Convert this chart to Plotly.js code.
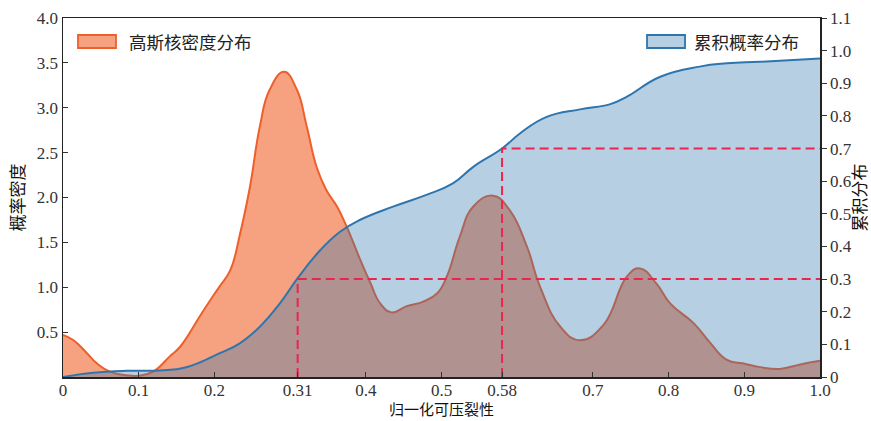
<!DOCTYPE html>
<html>
<head>
<meta charset="utf-8">
<script src="https://cdn.plot.ly/plotly-3.0.1.min.js"></script>
<style>html,body{margin:0;padding:0;background:#fff;}#chart{width:871px;height:421px;}</style>
</head>
<body>
<div id="chart"></div>
<script>
// Gaussian KDE (left axis, density)
const kdeX = [0, 0.014, 0.031, 0.045, 0.062, 0.084, 0.1, 0.119, 0.141, 0.155, 0.181, 0.198, 0.207, 0.221, 0.234, 0.247, 0.26, 0.273, 0.292, 0.309, 0.322, 0.335, 0.348, 0.362, 0.375, 0.392, 0.406, 0.419, 0.434, 0.454, 0.476, 0.494, 0.507, 0.524, 0.542, 0.568, 0.59, 0.613, 0.63, 0.657, 0.683, 0.714, 0.745, 0.762, 0.784, 0.802, 0.833, 0.855, 0.877, 0.899, 0.921, 0.947, 0.974, 1.0];
const kdeY = [0.47, 0.41, 0.27, 0.15, 0.06, 0.02, 0.015, 0.06, 0.23, 0.34, 0.68, 0.9, 1.01, 1.19, 1.6, 2.12, 2.79, 3.2, 3.4, 3.2, 2.79, 2.34, 2.08, 1.9, 1.67, 1.32, 1.05, 0.82, 0.72, 0.79, 0.84, 0.93, 1.12, 1.56, 1.9, 2.02, 1.86, 1.45, 1.01, 0.56, 0.41, 0.58, 1.12, 1.21, 1.04, 0.82, 0.6, 0.38, 0.19, 0.15, 0.11, 0.09, 0.14, 0.18];
// Cumulative distribution (right axis)
const cdfX = [0, 0.04, 0.084, 0.128, 0.163, 0.207, 0.234, 0.26, 0.287, 0.31, 0.34, 0.366, 0.392, 0.436, 0.48, 0.515, 0.542, 0.58, 0.604, 0.639, 0.683, 0.723, 0.745, 0.789, 0.841, 0.877, 0.921, 1.0];
const cdfY = [0, 0.013, 0.019, 0.02, 0.03, 0.073, 0.104, 0.154, 0.227, 0.303, 0.389, 0.445, 0.481, 0.522, 0.558, 0.593, 0.644, 0.70, 0.747, 0.797, 0.82, 0.836, 0.859, 0.92, 0.951, 0.961, 0.966, 0.976];
// Reference guide lines
const guide1X = [0.31, 0.31, 1.0];
const guide1Y = [0, 0.3, 0.3];
const guide2X = [0.58, 0.58, 1.0];
const guide2Y = [0, 0.7, 0.7];
// Tick labels
const xTickVals = [0, 0.1, 0.2, 0.31, 0.4, 0.5, 0.58, 0.7, 0.8, 0.9, 1.0];
const xTickText = ["0", "0.1", "0.2", "0.31", "0.4", "0.5", "0.58", "0.7", "0.8", "0.9", "1.0"];
const yTickVals = [0.5, 1.0, 1.5, 2.0, 2.5, 3.0, 3.5, 4.0];
const yTickText = ["0.5", "1.0", "1.5", "2.0", "2.5", "3.0", "3.5", "4.0"];
const y2TickVals = [0, 0.1, 0.2, 0.3, 0.4, 0.5, 0.6, 0.7, 0.8, 0.9, 1.0, 1.1];
const y2TickText = ["0", "0.1", "0.2", "0.3", "0.4", "0.5", "0.6", "0.7", "0.8", "0.9", "1.0", "1.1"];
const seriesNames = ["高斯核密度分布", "累积概率分布"];
const xTitle = "归一化可压裂性";

const serif = "Liberation Serif, Times New Roman, serif";
const cjk = "Noto Sans CJK SC, sans-serif";
const orangeLine = "#EE5F2B", orangeFill = "rgba(240,100,45,0.6)";
const blueLine = "#2E75AE", blueFill = "rgba(46,117,174,0.35)";
const guideStyle = {color: "#E8264F", width: 2, dash: "9px,5px"};

const traces = [
  {x: kdeX, y: kdeY, type: "scatter", mode: "lines", name: seriesNames[0],
   line: {color: orangeLine, width: 2, shape: "spline", smoothing: 1.3},
   fill: "tozeroy", fillcolor: orangeFill, yaxis: "y", showlegend: false},
  {x: cdfX, y: cdfY, type: "scatter", mode: "lines", name: seriesNames[1],
   line: {color: blueLine, width: 2, shape: "spline", smoothing: 1.3},
   fill: "tozeroy", fillcolor: blueFill, yaxis: "y2", showlegend: false},
  {x: guide1X, y: guide1Y, type: "scatter", mode: "lines", line: guideStyle, yaxis: "y2", showlegend: false, hoverinfo: "skip"},
  {x: guide2X, y: guide2Y, type: "scatter", mode: "lines", line: guideStyle, yaxis: "y2", showlegend: false, hoverinfo: "skip"}
];

// legend drawn as boxes + text in paper coordinates
const shapes = [
  {type: "rect", xref: "paper", yref: "paper", x0: 0.0198, x1: 0.0700, y0: 0.9164, y1: 0.9526,
   fillcolor: orangeFill, line: {color: orangeLine, width: 1.8}},
  {type: "rect", xref: "paper", yref: "paper", x0: 0.7715, x1: 0.8217, y0: 0.9164, y1: 0.9526,
   fillcolor: blueFill, line: {color: blueLine, width: 1.8}}
];
const annotations = [
  {xref: "paper", yref: "paper", x: 0.0845, y: 0.9345, xanchor: "left", yanchor: "middle", showarrow: false,
   text: seriesNames[0], font: {family: cjk, size: 17.5, color: "#222"}},
  {xref: "paper", yref: "paper", x: 0.8305, y: 0.9345, xanchor: "left", yanchor: "middle", showarrow: false,
   text: seriesNames[1], font: {family: cjk, size: 17.5, color: "#222"}},
  {xref: "paper", yref: "paper", x: 0.5, y: -0.1225, xanchor: "center", yanchor: "bottom", showarrow: false,
   text: xTitle, font: {family: cjk, size: 15, color: "#111"}}
];

const layout = {
  width: 871, height: 421,
  margin: {l: 63, r: 51, t: 18, b: 44},
  paper_bgcolor: "#fff", plot_bgcolor: "#fff",
  showlegend: false,
  shapes: shapes, annotations: annotations,
  xaxis: {
    range: [0, 1.0], tickvals: xTickVals, ticktext: xTickText,
    ticks: "inside", ticklen: 5, tickcolor: "#333", showgrid: false, zeroline: false,
    showline: true, linecolor: "#222", linewidth: 1.5, mirror: true,
    tickfont: {family: serif, size: 17, color: "#333"}, ticklabelstandoff: -3
  },
  yaxis: {
    range: [0, 4.0], tickvals: yTickVals, ticktext: yTickText,
    ticks: "inside", ticklen: 5, tickcolor: "#333", showgrid: false, zeroline: false,
    showline: true, linecolor: "#222", linewidth: 1.5,
    tickfont: {family: serif, size: 17, color: "#333"},
    title: {text: "概率密度", font: {family: cjk, size: 17, color: "#111"}, standoff: 8}
  },
  yaxis2: {
    range: [0, 1.1], tickvals: y2TickVals, ticktext: y2TickText,
    overlaying: "y", side: "right",
    ticks: "outside", ticklen: 5, tickcolor: "#333", showgrid: false, zeroline: false,
    showline: true, linecolor: "#222", linewidth: 1.5,
    tickfont: {family: serif, size: 17, color: "#333"},
    title: {text: "累积分布", font: {family: cjk, size: 17, color: "#111"}, standoff: 4}
  }
};

Plotly.newPlot("chart", traces, layout, {displayModeBar: false, staticPlot: true});
</script>
</body>
</html>
